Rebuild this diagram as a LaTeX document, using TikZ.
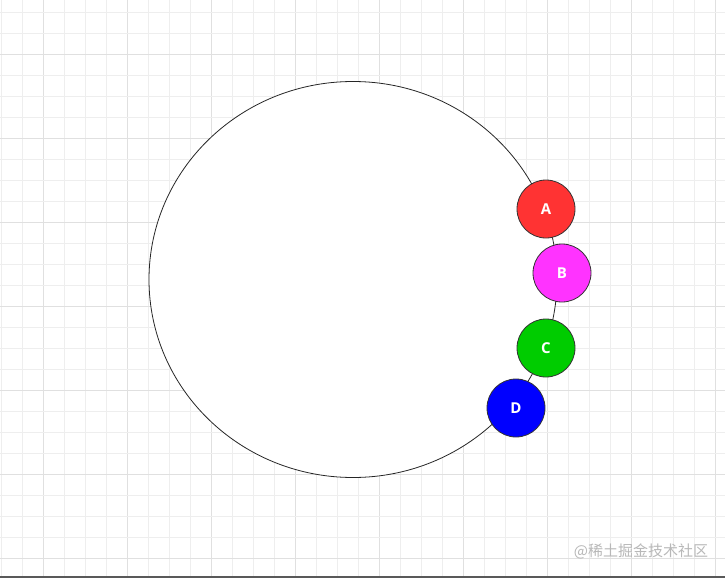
\documentclass[tikz,border=0pt]{standalone}
\usepackage{fontspec}
\usetikzlibrary{shapes.geometric}
\setmainfont{Open Sans}
\newfontfamily\cjk{Noto Sans CJK SC}
\definecolor{gridminor}{HTML}{EEEEEE}
\definecolor{gridmajor}{HTML}{E0E0E0}
\definecolor{cA}{HTML}{FF3333}
\definecolor{cB}{HTML}{FF33FF}
\definecolor{cC}{HTML}{00CC00}
\definecolor{cD}{HTML}{0000FF}
\begin{document}
\begin{tikzpicture}[x=1pt,y=-1pt,
  ball/.style={circle,draw=black!80,line width=0.8pt,minimum size=58pt,inner sep=0pt,
    text=white,font=\fontsize{15}{15}\selectfont\bfseries},
  ring/.style={ellipse,draw=black!85,line width=0.8pt,fill=white,minimum width=408pt,minimum height=396pt,inner sep=0pt}]
\useasboundingbox (0,0) rectangle (725,578);
\fill[white] (0,0) rectangle (725,578);
% grid
\foreach \k in {0,...,34}{
  \pgfmathsetmacro{\xx}{1.7+21*\k}
  \pgfmathtruncatemacro{\m}{mod(\k,4)==2}
  \ifnum\m=1
    \draw[gridmajor,line width=1pt] (\xx,0) -- (\xx,578);
  \else
    \draw[gridminor,line width=0.9pt] (\xx,0) -- (\xx,578);
  \fi
}
\foreach \k in {0,...,27}{
  \pgfmathsetmacro{\yy}{12.7+21*\k}
  \pgfmathtruncatemacro{\m}{mod(\k,4)==2}
  \ifnum\m=1
    \draw[gridmajor,line width=1pt] (0,\yy) -- (725,\yy);
  \else
    \draw[gridminor,line width=0.9pt] (0,\yy) -- (725,\yy);
  \fi
}
\fill[black!65] (0,575.5) rectangle (725,578);
% ring
\node[ring] (ring) at (353,279.5) {};
% balls
\node[ball,fill=cA] (A) at (546,209) {A};
\node[ball,fill=cB] (B) at (562,273) {B};
\node[ball,fill=cC] (C) at (546,348) {C};
\node[ball,fill=cD] (D) at (516,408) {D};
% watermark
\node[text=black!28,font=\cjk\fontsize{15}{15}\selectfont] (wm) at (641,551) {@稀土掘金技术社区};
\end{tikzpicture}
\end{document}
